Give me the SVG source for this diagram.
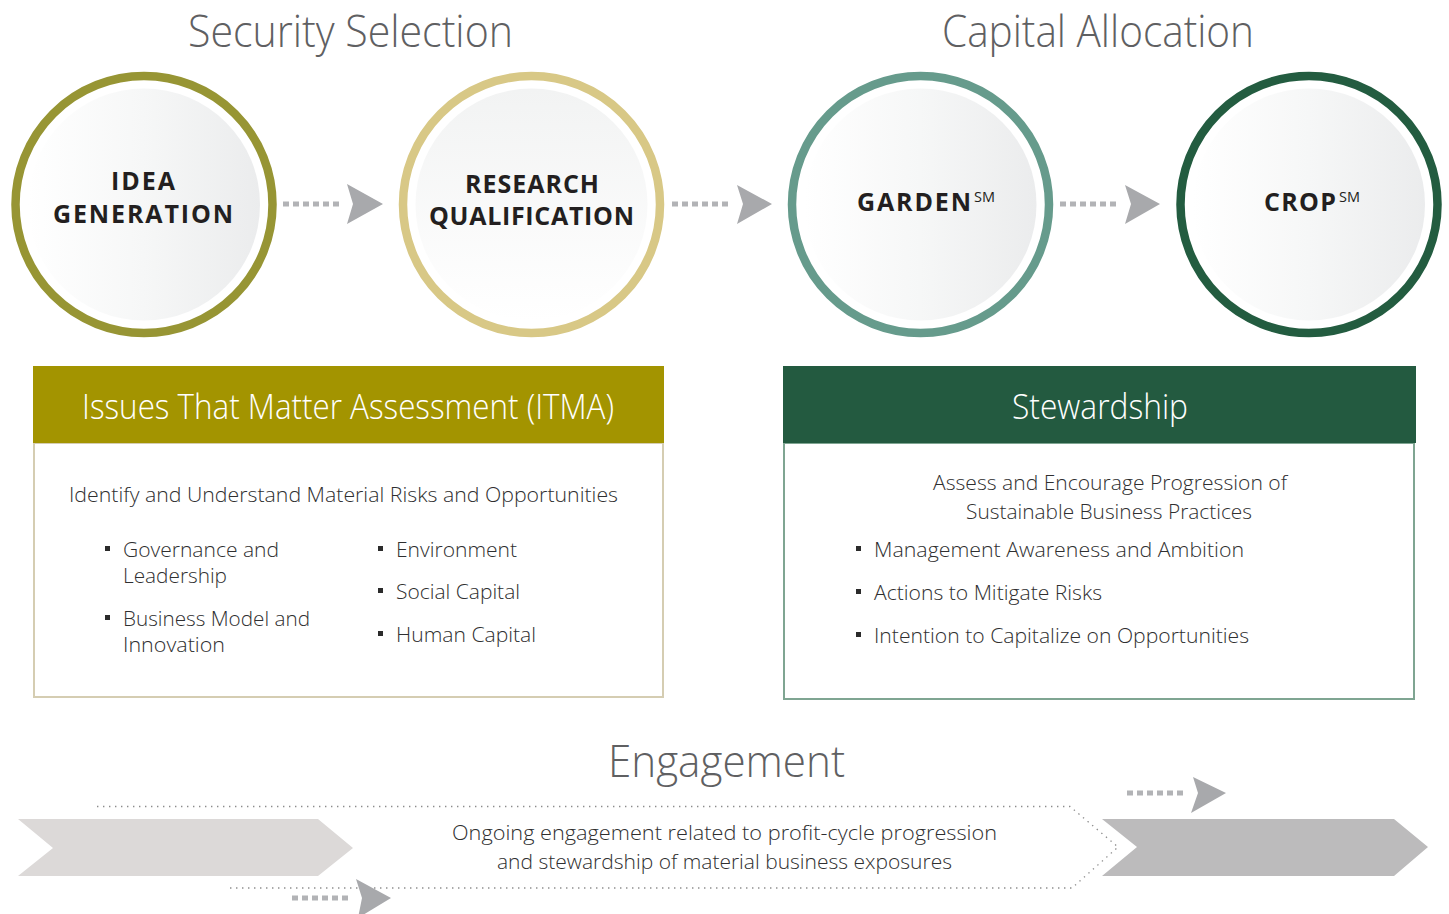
<svg xmlns="http://www.w3.org/2000/svg" width="1449" height="914" viewBox="0 0 1449 914">
<defs>
<linearGradient id="gh" x1="0" y1="0" x2="1" y2="0">
<stop offset="0" stop-color="#ffffff"/>
<stop offset="0.5" stop-color="#f6f7f7"/>
<stop offset="1" stop-color="#ebeced"/>
</linearGradient>
<linearGradient id="gv" x1="0" y1="0" x2="0" y2="1">
<stop offset="0" stop-color="#f2f3f3"/>
<stop offset="1" stop-color="#ffffff"/>
</linearGradient>
<style>
.light{font-family:"Open Sans","Noto Sans",sans-serif;font-weight:300;}
.title{font-size:44px;fill:#5f6062;}
.head{font-size:34px;fill:#ffffff;}
.body{font-size:20.5px;fill:#2f2f30;}
.bold{font-family:"Open Sans","Noto Sans",sans-serif;font-weight:700;font-size:25px;fill:#231f20;}
.sm{font-family:"Open Sans","Noto Sans",sans-serif;font-weight:400;font-size:14px;fill:#231f20;}
.ring{stroke-width:8.5;}
.dash{stroke:#b2b3b6;stroke-width:5;stroke-dasharray:6 4;fill:none;}
.head-fill{fill:#a8a9ac;}
.dot{fill:none;stroke:#8c8c8c;stroke-width:1.3;stroke-dasharray:1.4 4.6;}
.bul{fill:#2b2b2b;}
</style>
</defs>
<rect width="1449" height="914" fill="#ffffff"/>

<g id="titles" class="light title">
<text x="188" y="47" textLength="325" lengthAdjust="spacingAndGlyphs">Security Selection</text>
<text x="942" y="47" textLength="312" lengthAdjust="spacingAndGlyphs">Capital Allocation</text>
<text x="608" y="777" textLength="237" lengthAdjust="spacingAndGlyphs">Engagement</text>
</g>

<g id="node-idea">
<circle cx="144" cy="204.5" r="116" fill="url(#gh)"/>
<circle cx="144" cy="204.5" r="128.5" fill="none" stroke="#979534" class="ring"/>
<text class="bold" x="111" y="190" textLength="64">IDEA</text>
<text class="bold" x="53" y="223" textLength="180">GENERATION</text>
</g>

<g id="node-research">
<circle cx="531.5" cy="204.5" r="116" fill="url(#gv)"/>
<circle cx="531.5" cy="204.5" r="128.5" fill="none" stroke="#d8c886" class="ring"/>
<text class="bold" x="465" y="193" textLength="134">RESEARCH</text>
<text class="bold" x="429" y="225" textLength="205">QUALIFICATION</text>
</g>

<g id="node-garden">
<circle cx="920.5" cy="204.5" r="116" fill="url(#gh)"/>
<circle cx="920.5" cy="204.5" r="128.5" fill="none" stroke="#669b8c" class="ring"/>
<text class="bold" x="857" y="211" textLength="114">GARDEN</text>
<text class="sm" x="974" y="202" textLength="21" lengthAdjust="spacingAndGlyphs">SM</text>
</g>

<g id="node-crop">
<circle cx="1309" cy="204.5" r="116" fill="url(#gh)"/>
<circle cx="1309" cy="204.5" r="128.5" fill="none" stroke="#235c40" class="ring"/>
<text class="bold" x="1264" y="211" textLength="72">CROP</text>
<text class="sm" x="1339" y="202" textLength="21" lengthAdjust="spacingAndGlyphs">SM</text>
</g>

<g id="connectors">
<line class="dash" x1="283" y1="204" x2="343" y2="204"/>
<path class="head-fill" d="M347 184 L383 204 L347 224 L353 204 Z"/>
<line class="dash" x1="672" y1="204" x2="732" y2="204"/>
<path class="head-fill" d="M737 185 L772 204 L737 224 L743 204 Z"/>
<line class="dash" x1="1060" y1="204" x2="1120" y2="204"/>
<path class="head-fill" d="M1125 185 L1160 204 L1125 224 L1131 204 Z"/>
</g>

<g id="box-itma">
<rect x="34" y="443" width="629" height="254" fill="#ffffff" stroke="#d5cdb2" stroke-width="2"/>
<rect x="33" y="366" width="631" height="77" fill="#a39400"/>
<text class="light head" x="82" y="419" textLength="532" lengthAdjust="spacingAndGlyphs">Issues That Matter Assessment (ITMA)</text>
<g class="light body">
<text x="69" y="502" textLength="549" lengthAdjust="spacingAndGlyphs">Identify and Understand Material Risks and Opportunities</text>
<text x="123" y="557" textLength="156" lengthAdjust="spacingAndGlyphs">Governance and</text>
<text x="123" y="583" textLength="104" lengthAdjust="spacingAndGlyphs">Leadership</text>
<text x="123" y="626" textLength="187" lengthAdjust="spacingAndGlyphs">Business Model and</text>
<text x="123" y="652" textLength="102" lengthAdjust="spacingAndGlyphs">Innovation</text>
<text x="396" y="557" textLength="121" lengthAdjust="spacingAndGlyphs">Environment</text>
<text x="396" y="599" textLength="124" lengthAdjust="spacingAndGlyphs">Social Capital</text>
<text x="396" y="642" textLength="140" lengthAdjust="spacingAndGlyphs">Human Capital</text>
</g>
<rect class="bul" x="105" y="546" width="5" height="5"/>
<rect class="bul" x="105" y="615" width="5" height="5"/>
<rect class="bul" x="378" y="546" width="5" height="5"/>
<rect class="bul" x="378" y="588" width="5" height="5"/>
<rect class="bul" x="378" y="631" width="5" height="5"/>
</g>

<g id="box-stewardship">
<rect x="784" y="443" width="630" height="256" fill="#ffffff" stroke="#7fa592" stroke-width="2"/>
<rect x="783" y="366" width="633" height="77" fill="#235a40"/>
<text class="light head" x="1012" y="419" textLength="176" lengthAdjust="spacingAndGlyphs">Stewardship</text>
<g class="light body">
<text x="933" y="490" textLength="354" lengthAdjust="spacingAndGlyphs">Assess and Encourage Progression of</text>
<text x="966" y="519" textLength="286" lengthAdjust="spacingAndGlyphs">Sustainable Business Practices</text>
<text x="874" y="557" textLength="370" lengthAdjust="spacingAndGlyphs">Management Awareness and Ambition</text>
<text x="874" y="600" textLength="228" lengthAdjust="spacingAndGlyphs">Actions to Mitigate Risks</text>
<text x="874" y="643" textLength="375" lengthAdjust="spacingAndGlyphs">Intention to Capitalize on Opportunities</text>
</g>
<rect class="bul" x="856" y="546" width="5" height="5"/>
<rect class="bul" x="856" y="589" width="5" height="5"/>
<rect class="bul" x="856" y="632" width="5" height="5"/>
</g>

<g id="engagement">
<path d="M18 819 L318 819 L353 848 L318 876 L18 876 L53 848 Z" fill="#dcd9d8"/>
<path d="M1102 819 L1394 819 L1428 847 L1394 876 L1102 876 L1137 847 Z" fill="#bcbbbc"/>
<path class="dot" d="M97 806.5 L1070 806.5 L1118 847 L1072 888 L230 888"/>
<g class="light body">
<text x="452" y="840" textLength="545" lengthAdjust="spacingAndGlyphs">Ongoing engagement related to profit-cycle progression</text>
<text x="497" y="869" textLength="455" lengthAdjust="spacingAndGlyphs">and stewardship of material business exposures</text>
</g>
<line class="dash" x1="1127" y1="793" x2="1187" y2="793"/>
<path class="head-fill" d="M1193 777 L1226 793 L1191 813 L1198 793 Z"/>
<line class="dash" x1="292" y1="898" x2="352" y2="898"/>
<path class="head-fill" d="M356 879 L391 898 L358 918 L362 898 Z"/>
</g>
</svg>
